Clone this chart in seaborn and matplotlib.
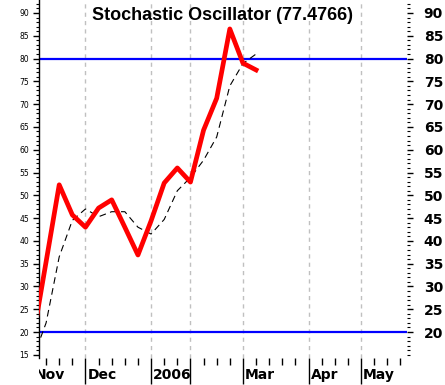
import numpy as np
import pandas as pd
import matplotlib
matplotlib.use("Agg")
import matplotlib.pyplot as plt
import matplotlib.transforms as mtransforms
from matplotlib.ticker import MultipleLocator, FixedLocator
import seaborn as sns

# weekly bars, x = bar index
week = list(range(18))
pct_k = [18.6, 35.4, 52.3, 45.7, 43.0, 47.2, 49.0, 43.0, 36.9, 44.4,
         52.7, 56.0, 52.9, 64.3, 71.3, 86.5, 79.0, 77.5]
pct_d = [14.2, 22.0, 36.5, 44.5, 47.0, 45.3, 46.4, 46.4, 43.0, 41.5,
         44.7, 51.0, 53.9, 57.7, 62.8, 74.0, 78.9, 81.0]

# month boundaries (bar index) and their labels
month_pos = [0, 4, 9, 12, 16, 21, 25]
month_lab = ["Nov", "Dec", "2006", "", "Mar", "Apr", "May"]

levels = [20, 80]
title = "Stochastic Oscillator (77.4766)"

df = pd.DataFrame({"week": week, "k": pct_k, "d": pct_d})

fig = plt.figure(figsize=(4.45, 3.85), dpi=100)
fig.patch.set_facecolor("white")
ax = fig.add_axes([39 / 445, 27 / 385, 368 / 445, 358 / 385])

x0, x1 = 0.46, 28.5
y0, y1 = 14.3, 92.85
ax.set_xlim(x0, x1)
ax.set_ylim(y0, y1)

# month grid
for m in month_pos[1:]:
    ax.axvline(m, color="#c0c0c0", lw=1, ls=(0, (3, 3)), zorder=0)

for lv in levels:
    ax.axhline(lv, color="#0000ff", lw=1.6, zorder=2)

sns.lineplot(data=df, x="week", y="d", ax=ax, color="black", lw=0.8,
             linestyle=(0, (6, 4)), zorder=3)
sns.lineplot(data=df, x="week", y="k", ax=ax, color="#ff0000", lw=3.4,
             zorder=4)

ax.text(0.5, 1 - 15 / 358, title, transform=ax.transAxes, ha="center",
        va="center", fontsize=13, fontweight="bold",
        family="Liberation Sans")

for s in ["top", "right", "bottom"]:
    ax.spines[s].set_visible(False)
ax.spines["left"].set_linewidth(1)
ax.set_xlabel("")
ax.set_ylabel("")

# left axis: small labels
ax.yaxis.set_major_locator(MultipleLocator(5))
ax.yaxis.set_minor_locator(MultipleLocator(1))
ax.tick_params(axis="y", which="major", length=4, width=1, labelsize=5.5,
               pad=3)
ax.tick_params(axis="y", which="minor", length=2, width=0.8)

# right axis: big bold labels
ax2 = ax.twinx()
ax2.set_ylim(y0, y1)
for s in ax2.spines.values():
    s.set_visible(False)
ax2.yaxis.set_major_locator(FixedLocator(list(range(20, 95, 5))))
ax2.yaxis.set_minor_locator(MultipleLocator(1))
ax2.tick_params(axis="y", which="major", length=4, width=1, labelsize=10,
                pad=8)
ax2.tick_params(axis="y", which="minor", length=2.5, width=0.8)
for t in ax2.get_yticklabels():
    t.set_fontweight("bold")

# bottom: weekly ticks, long ticks at months, labels right of them
ax.set_xticks(month_pos[1:])
ax.set_xticklabels([])
ax.set_xticks(list(range(1, 29)), minor=True)
ax.tick_params(axis="x", which="major", length=19, width=1, direction="out")
ax.tick_params(axis="x", which="minor", length=5, width=1)

trans = mtransforms.blended_transform_factory(ax.transData, ax.transAxes)
trans = trans + mtransforms.ScaledTranslation(2 / 100, 0, fig.dpi_scale_trans)
clip = mtransforms.TransformedBbox(
    mtransforms.Bbox([[39 / 445, 0], [1, 1]]), fig.transFigure)
for m, lab in zip(month_pos, month_lab):
    if not lab:
        continue
    t = ax.text(m, -17 / 358, lab, transform=trans, ha="left", va="center",
                fontsize=10, fontweight="bold", clip_on=True)
    t.set_clip_box(clip)

fig.savefig("out.png", dpi=100, facecolor="white")
